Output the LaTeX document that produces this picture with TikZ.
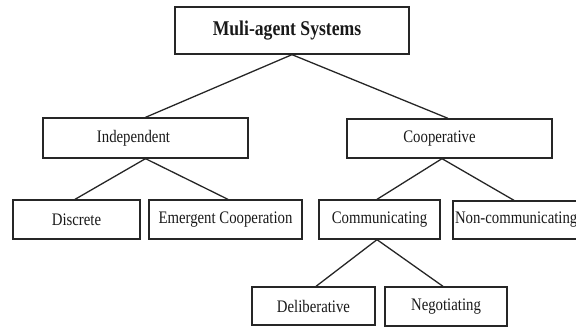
\documentclass[tikz,border=0pt]{standalone}
\usepackage{fontspec}
\setmainfont{Liberation Serif}[FakeStretch=0.84]
\begin{document}
\begin{tikzpicture}[x=1pt,y=-1pt,
  box/.style={draw=black!85, line width=1.3pt, rectangle, inner sep=0pt,
    font=\fontsize{17.6}{20}\selectfont, text=black!90},
  link/.style={draw=black!85, line width=1.3pt}]
\useasboundingbox (0,0) rectangle (576,327);
\clip (0,0) rectangle (576,327);
\node[box, minimum width=234pt, minimum height=47pt,
  font=\fontsize{21}{24}\selectfont\bfseries] (mas) at (292,30.5) {Muli-agent Systems\hspace*{10pt}};
\node[box, minimum width=205pt, minimum height=40pt] (ind) at (145.5,138) {Independent\hspace*{24pt}};
\node[box, minimum width=205pt, minimum height=39pt] (coop) at (449.5,138.5) {Cooperative\hspace*{20pt}};
\node[box, minimum width=127pt, minimum height=39pt] (disc) at (76.5,219.5) {Discrete};
\node[box, minimum width=153pt, minimum height=39pt] (emer) at (225.5,219.5) {\raisebox{3pt}{Emergent Cooperation}};
\node[box, minimum width=121pt, minimum height=39pt] (comm) at (379.5,219.5) {Communicating};
\node[box, minimum width=132pt, minimum height=38pt, text width=128pt, align=left] (ncomm) at (519,220) {Non-communicating};
\node[box, minimum width=123pt, minimum height=38pt] (delib) at (313.5,306) {Deliberative};
\node[box, minimum width=122pt, minimum height=39pt] (nego) at (446,306.5) {Negotiating};
\draw[link] (mas.south) -- (ind.north);
\draw[link] (mas.south) -- ([xshift=-1.5pt]coop.north);
\draw[link] (ind.south) -- ([xshift=-1.5pt]disc.north);
\draw[link] (ind.south) -- ([xshift=2.5pt]emer.north);
\draw[link] ([xshift=-7.5pt]coop.south) -- ([xshift=-2.5pt]comm.north);
\draw[link] ([xshift=-7.5pt]coop.south) -- ([xshift=-5pt]ncomm.north);
\draw[link] ([xshift=-2.5pt]comm.south) -- ([xshift=2.5pt]delib.north);
\draw[link] ([xshift=-2.5pt]comm.south) -- ([xshift=-3pt]nego.north);
\end{tikzpicture}
\end{document}
